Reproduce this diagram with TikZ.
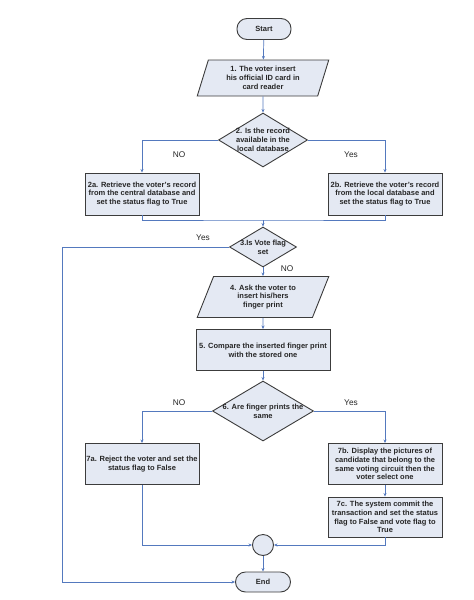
\documentclass[tikz,border=0pt]{standalone}
\usepackage{fontspec}
\setmainfont{Liberation Sans}
\usetikzlibrary{shapes.geometric, arrows.meta}

\definecolor{boxfill}{RGB}{228,233,243}
\definecolor{flowline}{RGB}{84,121,190}
\definecolor{boxline}{RGB}{60,60,60}

\tikzset{
	base/.style = {draw=boxline, line width=0.9pt, fill=boxfill, text=black!85,
		font=\fontsize{7.5}{8.7}\selectfont\bfseries, align=center, inner sep=0pt},
	terminal/.style = {base, rectangle, rounded corners=10pt, minimum width=54, minimum height=21},
	io/.style = {base, trapezium, trapezium stretches=true},
	process/.style = {base, rectangle, minimum width=114, minimum height=42},
	decision/.style = {base, diamond},
	joint/.style = {base, circle, minimum size=21},
	dtext/.style = {text=black!85, font=\fontsize{7.5}{8.7}\selectfont\bfseries, align=center},
	note/.style = {text=black!85, font=\fontsize{8.3}{10}\selectfont},
	flow/.style = {draw=flowline, line width=0.7pt, -{Stealth[length=3.5pt, width=3pt]}},
	link/.style = {draw=flowline, line width=0.7pt}
}

\begin{document}
\begin{tikzpicture}[x=1pt, y=-1pt]
	\useasboundingbox (0,0) rectangle (474,600);

	\node[terminal] (start) at (264,29) {Start};
	\node[io, minimum width=132, minimum height=36, trapezium left angle=72, trapezium right angle=108] (s1) at (263,78)
		{1. The voter insert\\his official ID card in\\card reader};
	\node[decision, minimum width=89, minimum height=54,
		label={[dtext]center:2. Is the record\\available in the\\local database}] (s2) at (263,140) {};
	\node[process] (s2a) at (142,194) {2a. Retrieve the voter's record\\from the central database and\\set the status flag to True};
	\node[process] (s2b) at (385,194) {2b. Retrieve the voter's record\\from the local database and\\set the status flag to True};
	\coordinate (m2) at (263,220);
	\node[decision, minimum width=67, minimum height=40,
		label={[dtext]center:3.Is Vote flag\\set}] (s3) at (263,247) {};
	\node[io, minimum width=132, minimum height=41, trapezium left angle=66, trapezium right angle=114] (s4) at (263,297)
		{4. Ask the voter to\\insert his/hers\\finger print};
	\node[process, minimum width=134, minimum height=41] (s5) at (263,350) {5. Compare the inserted finger print\\with the stored one};
	\node[decision, minimum width=101, minimum height=60,
		label={[dtext]center:6. Are finger prints the\\same}] (s6) at (263,411) {};
	\node[process, minimum height=41] (s7a) at (142,464) {7a. Reject the voter and set the\\status flag to False};
	\node[process, minimum height=41] (s7b) at (385,464) {7b. Display the pictures of\\candidate that belong to the\\same voting circuit then the\\voter select one};
	\node[process, minimum height=40] (s7c) at (385,517) {7c. The system commit the\\transaction and set the status\\flag to False and vote flag to\\True};
	\node[joint] (join) at (263,545) {};
	\node[terminal, minimum width=55, minimum height=20] (end) at (263,582) {End};
	\coordinate (back) at (62,582);

	\draw[flow] (start) -- (s1);
	\draw[flow] (s1) -- (s2);
	\draw[flow] (s2.west) -| (s2a.north);
	\draw[flow] (s2.east) -| (s2b.north);
	\draw[link] (s2a.south) |- (m2) -| (s2b.south);
	\draw[flow] (m2) -- (s3.north);
	\draw[flow] (s3.west) -| (back) -- (end.west);
	\draw[flow] (s3) -- (s4);
	\draw[flow] (s4) -- (s5);
	\draw[flow] (s5) -- (s6);
	\draw[flow] (s6.west) -| (s7a.north);
	\draw[flow] (s6.east) -| (s7b.north);
	\draw[flow] (s7b) -- (s7c);
	\draw[flow] (s7a.south) |- (join.west);
	\draw[flow] (s7c.south) |- (join.east);
	\draw[flow] (join) -- (end);

	\node[note] (no2) at (179,155) {NO};
	\node[note] (yes2) at (351,155) {Yes};
	\node[note] (yes3) at (203,238) {Yes};
	\node[note] (no3) at (287,269) {NO};
	\node[note] (no6) at (179,403) {NO};
	\node[note] (yes6) at (351,403) {Yes};
\end{tikzpicture}
\end{document}
